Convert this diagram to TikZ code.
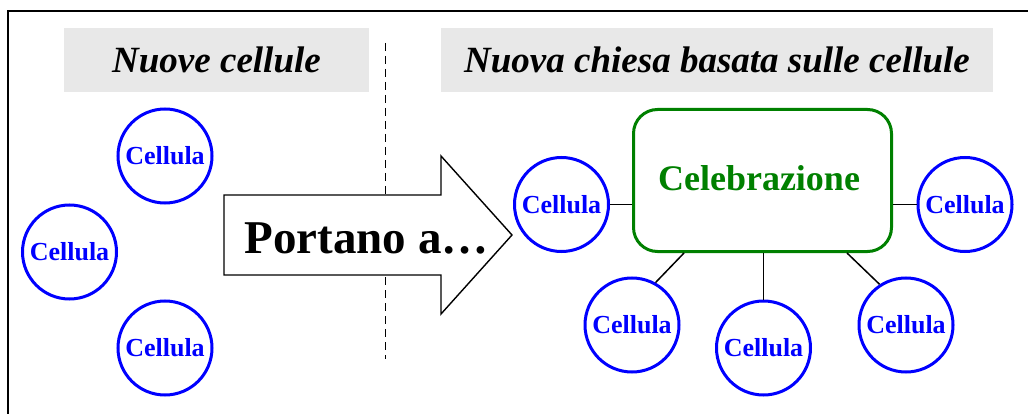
\documentclass[tikz,border=0pt]{standalone}
\usepackage{fontspec}
\setmainfont{Liberation Serif}
\usetikzlibrary{calc}
\definecolor{hdrgray}{HTML}{E8E8E8}
\definecolor{celgreen}{RGB}{0,128,0}
\begin{document}
\begin{tikzpicture}[x=1pt,y=-1pt,
  cell/.style={circle,draw=blue,line width=3pt,minimum size=94pt,inner sep=0pt,
    text=blue,font=\fontsize{26}{30}\selectfont\bfseries},
  hdr/.style={fill=hdrgray,inner sep=0pt,font=\fontsize{37}{42}\selectfont\bfseries\itshape},
  link/.style={line width=1.5pt,black}]
\useasboundingbox (0,0) rectangle (1028,414);
% frame (cropped)
\draw[line width=2pt] (7.5,414) -- (7.5,11.5) -- (1028,11.5);
% headers
\node[hdr,minimum width=305pt,minimum height=64pt] (h1) at (216.5,60) {Nuove cellule};
\node[hdr,minimum width=552pt,minimum height=64pt] (h2) at (717,60) {Nuova chiesa basata sulle cellule};
% dashed separator
\coordinate (dtop) at (385,43);
\coordinate (dbot) at (385,359);
\draw[line width=1pt,dash pattern=on 8pt off 5pt] (dtop) -- (dbot);
% arrow
\draw[line width=1.4pt,fill=white,line join=miter] (224,195) -- (441,195) -- (441,156) -- (512,235) -- (441,314) -- (441,275) -- (224,275) -- cycle;
\node[anchor=base,font=\fontsize{47}{52}\selectfont\bfseries,inner sep=0pt] (pa) at (366.5,254) {Portano a…};
% left cells
\node[cell] (l1) at (165,156) {Cellula};
\node[cell] (l2) at (69.5,252) {Cellula};
\node[cell] (l3) at (165,348) {Cellula};
% celebration box
\node[draw=celgreen,line width=3pt,rounded corners=24pt,minimum width=258pt,minimum height=142pt,inner sep=0pt] (box) at (762.5,180.5) {};
\node[anchor=base,text=celgreen,font=\fontsize{36}{40}\selectfont\bfseries,inner sep=0pt] (cel) at (759,191) {Celebrazione};
% right cells
\node[cell] (rl) at (561.5,204.5) {Cellula};
\node[cell] (rr) at (965,204.5) {Cellula};
\node[cell] (bl) at (632,325) {Cellula};
\node[cell] (bm) at (763.5,348) {Cellula};
\node[cell] (br) at (906,325) {Cellula};
% connectors
\draw[link] (rl.east) -- (box.west |- rl.east);
\draw[link] (rr.west) -- (box.east |- rr.west);
\draw[link] (bm.north) -- (bm.north |- box.south);
\coordinate (blc) at (684,253);
\coordinate (brc) at (847,253);
\draw[link] (bl.61) -- (blc);
\draw[link] (br.123) -- (brc);
\end{tikzpicture}
\end{document}
